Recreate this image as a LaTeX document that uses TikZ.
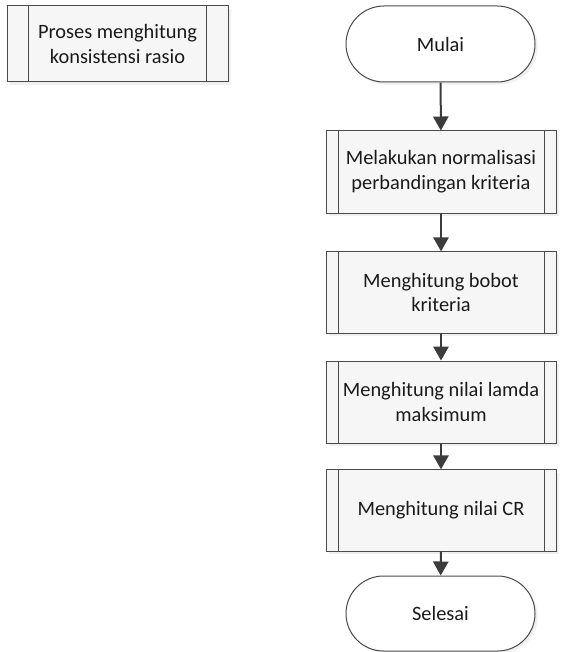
\documentclass[tikz,border=0pt]{standalone}
\usepackage{fontspec}
\setmainfont{Carlito}
\usetikzlibrary{arrows.meta,shapes.misc,shadows}
\definecolor{linec}{HTML}{4A4A4A}
\definecolor{arrowc}{HTML}{3C3C3C}
\definecolor{boxfill}{HTML}{F6F6F6}
\definecolor{textc}{HTML}{1A1A1A}
\tikzset{
  base/.style={draw=linec, line width=0.75pt, text=textc, align=center,
    font=\fontsize{15.3}{18.5}\selectfont, inner sep=0pt,
    drop shadow={opacity=0.12, shadow xshift=2pt, shadow yshift=-2pt}},
  procbox/.style={base, rectangle, fill=boxfill,
    path picture={
      \draw[linec, line width=0.75pt]
        ([xshift=#1]path picture bounding box.north west) --
        ([xshift=#1]path picture bounding box.south west)
        ([xshift=-#1]path picture bounding box.north east) --
        ([xshift=-#1]path picture bounding box.south east);}},
  termbox/.style={base, rounded rectangle, fill=white,
    minimum width=141.75pt, minimum height=57pt},
  flow/.style={draw=arrowc, line width=1.5pt,
    -{Triangle[length=10.5pt, width=11.5pt]}},
}
\begin{document}
\begin{tikzpicture}[x=0.75pt, y=-0.75pt]
  \useasboundingbox (0,0) rectangle (573,652);
  % legend box for the sub-process
  \node[procbox=16pt, minimum width=165.75pt, minimum height=57pt]
    (proses) at (117.5,44) {Proses menghitung\\konsistensi rasio};
  % main flow
  \node[termbox] (mulai) at (440.5,44) {Mulai};
  \node[procbox=9pt, minimum width=172.5pt, minimum height=61.5pt]
    (norm) at (441,172) {Melakukan normalisasi\\perbandingan kriteria};
  \node[procbox=9pt, minimum width=172.5pt, minimum height=61pt]
    (bobot) at (441,292.5) {Menghitung bobot\\kriteria};
  \node[procbox=9pt, minimum width=172.5pt, minimum height=61.5pt]
    (lamda) at (441,402) {Menghitung nilai lamda\\maksimum};
  \node[procbox=9pt, minimum width=172.5pt, minimum height=61pt]
    (cr) at (441,510.5) {Menghitung nilai CR};
  \node[termbox, minimum height=56.25pt] (selesai) at (440.5,613.5) {Selesai};
  % connectors
  \draw[flow] (mulai) -- (norm);
  \draw[flow] (norm) -- (bobot);
  \draw[flow] (bobot) -- (lamda);
  \draw[flow] (lamda) -- (cr);
  \draw[flow] (cr) -- (selesai);
\end{tikzpicture}
\end{document}
